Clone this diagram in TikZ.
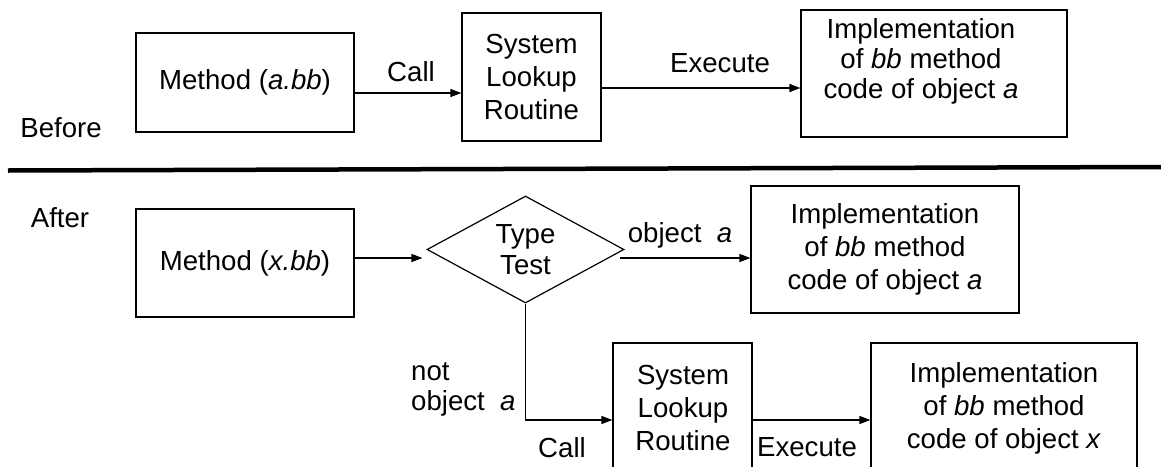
\documentclass[tikz,border=0pt]{standalone}
\usepackage{fontspec}
\setmainfont{Liberation Sans}
\usetikzlibrary{arrows.meta,shapes.geometric}
\tikzset{
  boxnode/.style={draw=black,line width=1.2pt,inner sep=0pt,align=center,font=\fsz},
  txt/.style={inner sep=0pt,align=center,font=\fsz},
  arr/.style={line width=1.2pt,-{Triangle[length=11pt,width=8pt]}},
  conn/.style={line width=1.2pt}
}
\newcommand{\fsz}{\fontsize{27.6}{33}\selectfont}
\begin{document}
\begin{tikzpicture}[x=1pt,y=-1pt]
\useasboundingbox (0,0) rectangle (1161,466);
\clip (0,0) rectangle (1161,466);
% ---- Before ----
\node[boxnode,minimum width=218pt,minimum height=99pt] (m1) at (245,82.5) {Method (\textit{a.bb})};
\node[boxnode,minimum width=139pt,minimum height=128pt] (s1) at (531.5,77) {System\\Lookup\\Routine};
\node[boxnode,minimum width=266pt,minimum height=127pt] (i1) at (934,73.5) {};
\node[txt,font=\fontsize{27.6}{30}\selectfont] (i1t) at (921,61) {Implementation\\of \textit{bb} method\\code of object \textit{a}};
\node[txt] (before) at (61,128) {Before};
\node[txt] (call1) at (411,72) {Call};
\node[txt] (exec1) at (720,63) {Execute};
\draw[arr] ([yshift=-10.5pt]m1.east) -- ([yshift=-10.5pt]m1.east -| s1.west);
\draw[arr] ([yshift=-11pt]s1.east) -- ([yshift=-11pt]s1.east -| i1.west);
% ---- divider ----
\coordinate (dl) at (8,170.5);
\coordinate (dr) at (1161,167);
\draw[line width=4.5pt] (dl) -- (dr);
% ---- After ----
\node[txt] (after) at (60,218) {After};
\node[boxnode,minimum width=218pt,minimum height=108pt] (m2) at (245,263) {Method (\textit{x.bb})};
\node[boxnode,diamond,shape aspect=1.84,minimum width=197pt,minimum height=107pt,font=\fontsize{27.6}{31}\selectfont] (dia) at (525.5,249.5) {\raisebox{-3pt}{Type}\\\raisebox{-3pt}{Test}};
\node[boxnode,minimum width=268pt,minimum height=127pt] (i2) at (885,249.5) {Implementation\\of \textit{bb} method\\code of object \textit{a}};
\node[boxnode,minimum width=139pt,minimum height=177pt] (s2) at (682.5,431.5) {};
\node[txt] (s2t) at (683,408) {System\\Lookup\\Routine};
\node[boxnode,minimum width=266pt,minimum height=177pt] (i3) at (1004,431.5) {};
\node[txt] (i3t) at (1004,408.5) {Implementation\\of \textit{bb} method\\code of object \textit{x}};
\node[txt] (obja) at (680,235) {object\ \ \textit{a}};
\node[txt,anchor=west] (nota1) at (411,372) {not};
\node[txt,anchor=west] (nota2) at (411,403) {object\ \ \textit{a}};
\node[txt] (call2) at (562,448) {Call};
\node[txt] (exec2) at (807,447) {Execute};
\draw[arr] ([yshift=5pt]m2.east) -- ([yshift=5pt,xshift=-4pt]m2.east -| dia.west);
\draw[arr] ([yshift=-8.5pt,xshift=-5pt]dia.east) -- ([yshift=-8.5pt]i2.west);
\draw[arr] (dia.south) |- ([yshift=11.5pt]s2.west);
\draw[arr] ([yshift=11.5pt]s2.east) -- ([yshift=11.5pt]i3.west);
\end{tikzpicture}
\end{document}
